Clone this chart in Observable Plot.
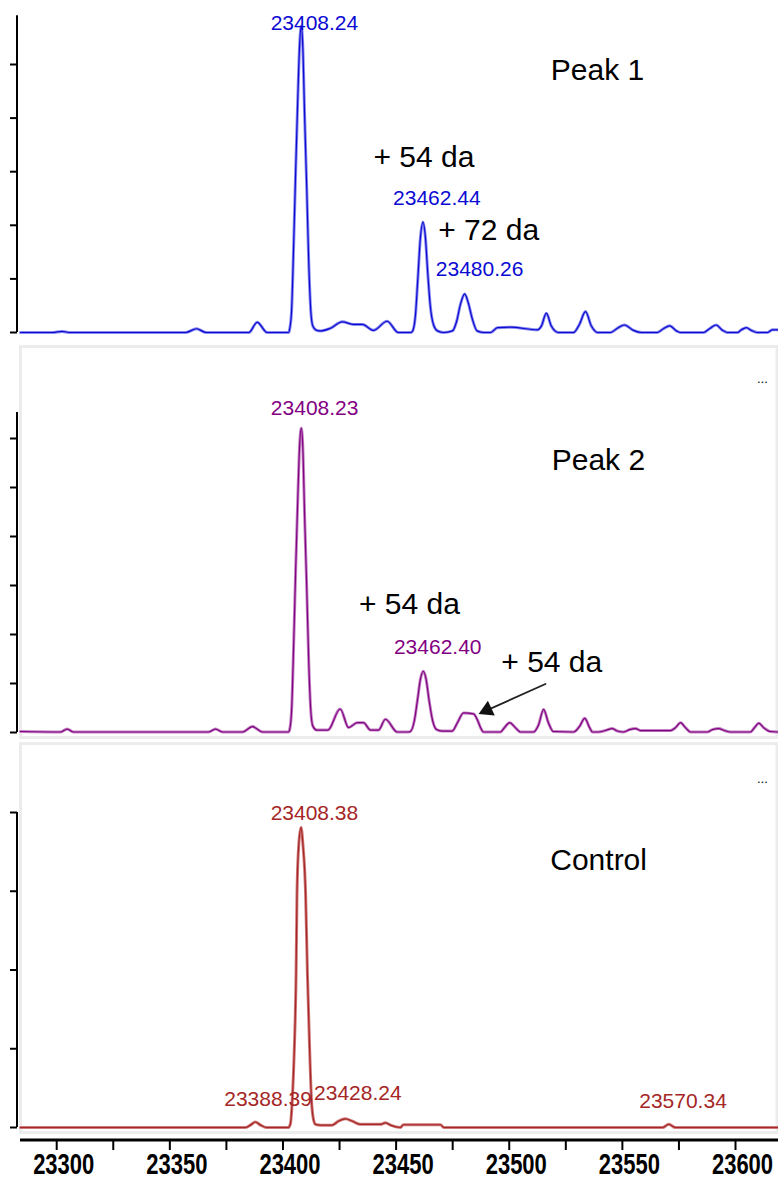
<!DOCTYPE html>
<html>
<head>
<meta charset="utf-8">
<script src="https://cdn.jsdelivr.net/npm/d3@7"></script>
<script src="https://cdn.jsdelivr.net/npm/@observablehq/plot@0.6"></script>
<style>
  html, body { margin: 0; padding: 0; background: #ffffff; }
  #chart { position: relative; width: 778px; height: 1178px; overflow: hidden; font-family: "Liberation Sans", Arial, sans-serif; }
  .panel { position: absolute; left: 0; }
</style>
</head>
<body>
<div id="chart"></div>
<script>
// ---------- data ----------
const xDomain = [23284, 23619];
const majorTicks = [23300, 23350, 23400, 23450, 23500, 23550, 23600];
const minorTicks = [23325, 23375, 23425, 23475, 23525, 23575];

const peak1YTicks = [0, 1, 2, 3, 4, 5];
const peak2YTicks = [0, 1, 2, 3, 4, 5, 6];
const controlYTicks = [0, 1, 2, 3, 4];

// [mass (Da), relative intensity]
const peak1Spectrum = [
[23284,0],[23298,0],[23302.4,0.02],[23306,0],[23357,0],[23361.8,0.07],[23366,0],[23384.9,0],[23388.6,0.19],[23393,0],
[23402.4,0],[23402.9,0.05],[23403.8,0.4],[23404.7,1.6],[23405.6,3.0],[23406.5,4.3],[23407.4,5.4],[23408.1,5.72],[23408.7,5.4],
[23409.6,4.0],[23410.5,2.7],[23411.4,1.3],[23412.3,0.4],[23413.2,0.12],[23414.9,0.04],[23416.6,0.03],[23421,0.08],[23426.2,0.2],
[23431.2,0.15],[23435.1,0.15],[23440,0.04],[23446,0.21],[23451,0],[23456.3,0],[23457.2,0.02],[23458.5,0.3],[23459.6,1.0],
[23460.7,1.75],[23461.9,2.06],[23462.9,1.8],[23464,1.1],[23465.1,0.5],[23466.5,0.15],[23468.3,0.03],[23470.9,0],[23474.9,0.03],
[23476.7,0.2],[23478.4,0.52],[23480.3,0.72],[23481.9,0.55],[23483.7,0.25],[23485.8,0.03],[23488.6,0],[23491.7,0],[23494.8,0.09],
[23500.5,0.1],[23512.5,0.05],[23514.2,0.12],[23516.4,0.36],[23518.6,0.12],[23521.7,0],[23528.4,0],[23531,0.15],[23533.7,0.39],
[23536.3,0.12],[23539,0],[23544.7,0],[23547.8,0.08],[23550.9,0.14],[23554.9,0.04],[23558.4,0],[23565.4,0],[23568.1,0.07],
[23570.9,0.125],[23573.9,0.03],[23575.7,0],[23585.8,0],[23588.5,0.07],[23591.4,0.14],[23594.3,0.04],[23596.4,0],[23600.9,0],
[23602.6,0.05],[23604.8,0.09],[23607,0.04],[23609.7,0],[23614.1,0],[23616.3,0.05],[23619,0.05]
];

const peak2Spectrum = [
[23284,0.02],[23301.7,0.01],[23304.6,0.07],[23307.4,0.01],[23367.1,0.01],[23370.2,0.07],[23373.3,0.01],[23382.1,0.01],[23386.5,0.12],
[23391,0.01],[23402.4,0.01],[23402.9,0.05],[23403.8,0.44],[23404.7,1.75],[23405.6,3.3],[23406.5,4.7],[23407.4,5.9],[23408.1,6.21],
[23408.7,5.9],[23409.6,4.37],[23410.5,2.96],[23411.4,1.43],[23412.3,0.44],[23413.2,0.13],[23414.9,0.05],[23419.8,0.05],[23425.3,0.48],
[23429,0.1],[23432.8,0.2],[23435.6,0.2],[23438.7,0.05],[23442.2,0.05],[23445.3,0.27],[23450.5,0.01],[23455.5,0.01],[23456.3,0.02],
[23458.1,0.25],[23459.4,0.65],[23460.8,1.1],[23462,1.25],[23463.2,1.1],[23464.6,0.65],[23466.1,0.25],[23467.9,0.06],[23470.4,0.03],
[23474.8,0.03],[23477.1,0.2],[23479.8,0.4],[23484.2,0.38],[23486,0.25],[23487.3,0.1],[23488.6,0.01],[23496.1,0.01],[23497.9,0.1],
[23500.2,0.2],[23502.7,0.1],[23505,0.01],[23510.7,0.01],[23512.9,0.15],[23515.2,0.47],[23517.3,0.2],[23519.5,0.02],[23528.5,0.01],
[23531,0.12],[23533.4,0.29],[23535.5,0.1],[23536.8,0.01],[23539.4,0.01],[23542.5,0.04],[23545.5,0.08],[23547.8,0.03],[23550.5,0.01],
[23553.2,0.06],[23555.8,0.08],[23558,0.04],[23571.3,0.04],[23573.5,0.1],[23575.7,0.2],[23577.9,0.1],[23580.1,0.01],[23587.5,0.01],
[23589.8,0.06],[23592.6,0.08],[23595.1,0.04],[23597.8,0.01],[23606.6,0.01],[23608.4,0.1],[23610.3,0.19],[23612.4,0.1],[23615.4,0.02],
[23619,0.01]
];

const controlSpectrum = [
[23284,0],[23383.4,0],[23385.6,0.03],[23387.8,0.07],[23390.1,0.03],[23392.7,0],[23402.4,0],[23403.3,0.05],[23404.2,0.4],[23405,0.98],
[23405.8,1.96],[23406.2,2.97],[23407,3.6],[23408,3.81],[23408.8,3.6],[23410,2.97],[23410.8,1.96],[23411.8,0.98],[23412.6,0.35],
[23413.5,0.1],[23414.4,0.04],[23416.6,0.03],[23421.7,0.03],[23424.5,0.08],[23427.6,0.11],[23430.7,0.08],[23434.2,0.04],[23443.1,0.04],
[23445.3,0.06],[23447.5,0.03],[23451.9,0],[23453.2,0.035],[23469.6,0.035],[23471.1,0],[23567.7,0],[23570.5,0.04],[23573.5,0],[23619,0]
];

const peak1MassLabels = [
  {text: "23408.24", x: 23413.9, y: 5.76},
  {text: "23462.44", x: 23468.0, y: 2.51},
  {text: "23480.26", x: 23486.9, y: 1.18}
];
const peak1Notes = [
  {text: "Peak 1", x: 23539.0, y: 4.89},
  {text: "+ 54 da", x: 23462.3, y: 3.26},
  {text: "+ 72 da", x: 23490.9, y: 1.90}
];
const peak2MassLabels = [
  {text: "23408.23", x: 23414.0, y: 6.61},
  {text: "23462.40", x: 23468.4, y: 1.73}
];
const peak2Notes = [
  {text: "Peak 2", x: 23539.4, y: 5.55},
  {text: "+ 54 da", x: 23455.9, y: 2.61},
  {text: "+ 54 da", x: 23518.8, y: 1.43}
];
const peak2Arrow = [{x1: 23516, y1: 0.99, x2: 23488, y2: 0.41}];
const controlMassLabels = [
  {text: "23408.38", x: 23413.9, y: 3.99},
  {text: "23388.39", x: 23393.4, y: 0.356},
  {text: "23428.24", x: 23433.1, y: 0.43},
  {text: "23570.34", x: 23576.8, y: 0.33}
];
const controlNotes = [
  {text: "Control", x: 23539.5, y: 3.39}
];
const moreMarker = [{text: "...", x: 23611.9}];

// ---------- drawing ----------
const FONT = "'Liberation Sans', Arial, Helvetica, sans-serif";

function spectrumMarks(data, light, dark) {
  return [
    Plot.line(data, {x: d => d[0], y: d => d[1], stroke: light, strokeWidth: 3, curve: "monotone-x"}),
    Plot.line(data, {x: d => d[0], y: d => d[1], stroke: dark, strokeWidth: 1.2, curve: "monotone-x"})
  ];
}

function yAxisMarks(ticks, top) {
  return [
    Plot.ruleX([xDomain[0]], {y1: 0, y2: top, dx: -3.5, stroke: "#000", strokeWidth: 2}),
    Plot.axisY(ticks, {anchor: "left", tickSize: 7, tickFormat: () => "", stroke: "#000", strokeWidth: 2, label: null})
  ];
}

function labelMarks(massLabels, notes, color, fontSize) {
  return [
    Plot.text(massLabels, {x: "x", y: "y", text: "text", fill: color, fontSize: fontSize, fontFamily: FONT, ariaLabel: "mass-label"}),
    Plot.text(notes, {x: "x", y: "y", text: "text", fill: "#000", fontSize: 30, fontFamily: FONT})
  ];
}

// vertical stretch of glyphs (the original uses a tall, narrow bitmap font)
function stretch(svg, selector, s, shift = 0) {
  svg.querySelectorAll(selector).forEach(t => {
    let tr = t.getAttribute("transform");
    if (!tr) {
      const x = +(t.getAttribute("x") || 0), y = +(t.getAttribute("y") || 0);
      t.removeAttribute("x"); t.removeAttribute("y");
      tr = `translate(${x},${y})`;
    }
    t.setAttribute("transform", `${tr} translate(${shift},0) scale(1,${s})`);
  });
}

const chart = document.getElementById("chart");
function place(svg, top) {
  const div = document.createElement("div");
  div.className = "panel";
  div.style.top = top + "px";
  div.appendChild(svg);
  chart.appendChild(div);
}

// Panel 1 : Peak 1
const p1 = Plot.plot({
  width: 778, height: 340,
  marginLeft: 17, marginRight: 0, marginTop: 0, marginBottom: 0,
  style: {fontFamily: FONT, background: "transparent"},
  x: {domain: xDomain, range: [20, 778], axis: null},
  y: {domain: [0, 5], range: [332, 64], axis: null},
  marks: [
    ...yAxisMarks(peak1YTicks, 5.91),
    ...spectrumMarks(peak1Spectrum, "#8a8aee", "#0a0ad2"),
    ...labelMarks(peak1MassLabels, peak1Notes, "#0a0ad2", 21)
  ]
});
stretch(p1, 'g[aria-label="mass-label"] text', 1.12);
place(p1, 0);

// Panel 2 : Peak 2
const p2 = Plot.plot({
  width: 778, height: 400,
  marginLeft: 17, marginRight: 0, marginTop: 6, marginBottom: 3,
  style: {fontFamily: FONT, background: "transparent"},
  x: {domain: xDomain, range: [20, 778], axis: null},
  y: {domain: [0, 6], range: [392, 98], axis: null},
  marks: [
    Plot.frame({stroke: "#ececec", strokeWidth: 3, insetLeft: 3, insetRight: 1.5}),
    ...yAxisMarks(peak2YTicks, 6.53),
    ...spectrumMarks(peak2Spectrum, "#c283c2", "#820082"),
    ...labelMarks(peak2MassLabels, peak2Notes, "#820082", 21),
    Plot.arrow(peak2Arrow, {x1: "x1", y1: "y1", x2: "x2", y2: "y2", stroke: "#222", strokeWidth: 1.8, headLength: 0}),
    Plot.dot(peak2Arrow, {x: "x2", y: "y2", symbol: "triangle", r: 6, fill: "#111", stroke: "none", rotate: 245, dx: 5, dy: -2.3}),
    Plot.text(moreMarker, {x: "x", y: 7.22, text: "text", fill: "#000", fontSize: 13, fontFamily: FONT})
  ]
});
stretch(p2, 'g[aria-label="mass-label"] text', 1.12);
place(p2, 340);

// Panel 3 : Control + x axis
const p3 = Plot.plot({
  width: 778, height: 438,
  marginLeft: 17, marginRight: 0, marginTop: 3, marginBottom: 38,
  style: {fontFamily: FONT, background: "transparent"},
  x: {domain: xDomain, range: [20, 778], axis: null},
  y: {domain: [0, 4], range: [387, 72], axis: null},
  marks: [
    Plot.frame({stroke: "#ececec", strokeWidth: 3, insetLeft: 3, insetRight: 1.5, insetBottom: 8}),
    ...yAxisMarks(controlYTicks, 4.0),
    ...spectrumMarks(controlSpectrum, "#cf7a7a", "#a52626"),
    ...labelMarks(controlMassLabels, controlNotes, "#a52626", 21),
    Plot.text(moreMarker, {x: "x", y: 4.43, text: "text", fill: "#000", fontSize: 13, fontFamily: FONT}),
    Plot.ruleY([0], {x1: xDomain[0], x2: xDomain[1], dy: 12.5, stroke: "#000", strokeWidth: 3}),
    Plot.axisX(minorTicks, {anchor: "bottom", tickSize: 10, tickFormat: () => "", stroke: "#000", strokeWidth: 2, label: null}),
    Plot.axisX(majorTicks, {anchor: "bottom", tickSize: 10, tickPadding: 3, tickFormat: d => String(d),
      stroke: "#000", strokeWidth: 2, fill: "#000", fontSize: 22, fontWeight: "bold", fontFamily: FONT, label: null})
  ]
});
stretch(p3, 'g[aria-label="mass-label"] text', 1.25);
stretch(p3, 'g[aria-label="x-axis tick label"] text', 1.3, 7);
place(p3, 740);
</script>
</body>
</html>
